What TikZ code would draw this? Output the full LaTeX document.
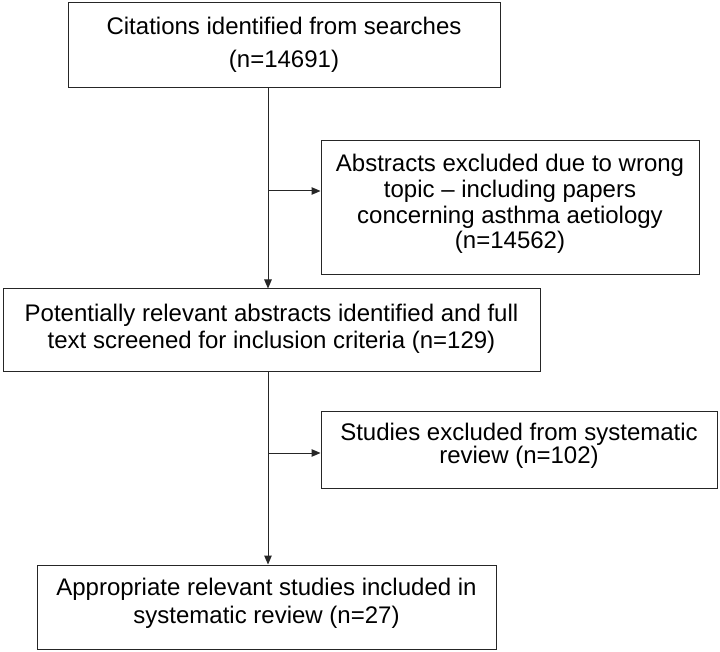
\documentclass[tikz,border=0pt]{standalone}
\usepackage{fontspec}
\setmainfont{Liberation Sans}
\usetikzlibrary{arrows.meta}
\begin{document}
\begin{tikzpicture}[x=1pt,y=-1pt,
  boxstyle/.style={draw=black!85,line width=1pt,inner sep=0pt,fill=white},
  txt/.style={align=center,inner sep=0pt,font=\fontsize{24}{#1}\selectfont},
  conn/.style={draw=black!85,line width=1pt},
  arr/.style={conn,-{Triangle[length=9pt,width=7.5pt]}}]
\useasboundingbox[fill=white] (0,0) rectangle (720,652);
% boxes
\node[boxstyle,minimum width=432pt,minimum height=85pt] (b1) at (284,45.5) {};
\node[boxstyle,minimum width=378pt,minimum height=134pt] (b2) at (510,208) {};
\node[boxstyle,minimum width=537pt,minimum height=82pt] (b3) at (271.5,330) {};
\node[boxstyle,minimum width=396pt,minimum height=77pt] (b4) at (519,449.5) {};
\node[boxstyle,minimum width=459pt,minimum height=84pt] (b5) at (266.5,607) {};
% texts
\node[txt=33] (t1) at (284,44.5) {Citations identified from searches\\(n=14691)};
\node[txt=25.7] (t2) at (510,204) {Abstracts excluded due to wrong\\topic -- including papers\\concerning asthma aetiology\\(n=14562)};
\node[txt=27.5] (t3) at (271.5,329) {Potentially relevant abstracts identified and full\\text screened for inclusion criteria (n=129)};
\node[txt=23] (t4) at (519,446) {Studies excluded from systematic\\review (n=102)};
\node[txt=28.5] (t5) at (266.5,603.5) {Appropriate relevant studies included in\\systematic review (n=27)};
% connectors
\coordinate (j1) at (268,191);
\coordinate (j2) at (268,453);
\draw[arr] (b1.south -| j1) -- (b3.north -| j1);
\draw[arr] (j1) -- (j1 -| b2.west);
\draw[arr] (b3.south -| j2) -- (b5.north -| j2);
\draw[arr] (j2) -- (j2 -| b4.west);
\end{tikzpicture}
\end{document}
